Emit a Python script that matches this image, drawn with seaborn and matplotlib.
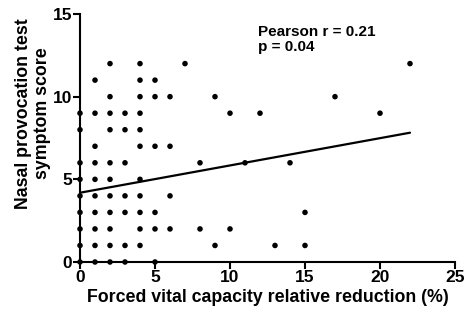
import matplotlib
matplotlib.use("Agg")
import matplotlib.pyplot as plt
import seaborn as sns
import numpy as np
import pandas as pd

# Data (x = FVC relative reduction %, y = symptom score)
fvc_reduction = [2, 4, 7, 22,
                 1, 4, 5,
                 2, 4, 5, 6, 9, 17,
                 0, 1, 2, 3, 4, 10, 12, 20,
                 0, 2, 3, 4,
                 1, 4, 5, 6,
                 0, 1, 2, 3, 8, 11, 14,
                 0, 1, 2, 4,
                 0, 1, 2, 3, 4, 6,
                 0, 1, 2, 3, 4, 5, 15,
                 0, 1, 2, 4, 5, 6, 8, 10,
                 0, 1, 2, 3, 4, 9, 13, 15,
                 0, 1, 2, 3, 5]
symptom_score = [12, 12, 12, 12,
                 11, 11, 11,
                 10, 10, 10, 10, 10, 10,
                 9, 9, 9, 9, 9, 9, 9, 9,
                 8, 8, 8, 8,
                 7, 7, 7, 7,
                 6, 6, 6, 6, 6, 6, 6,
                 5, 5, 5, 5,
                 4, 4, 4, 4, 4, 4,
                 3, 3, 3, 3, 3, 3, 3,
                 2, 2, 2, 2, 2, 2, 2, 2,
                 1, 1, 1, 1, 1, 1, 1, 1,
                 0, 0, 0, 0, 0]

# Regression line as shown in the reference
fit_x = [0, 22]
fit_intercept = 4.19
fit_slope = 0.165
fit_y = [fit_intercept + fit_slope * v for v in fit_x]

x_ticks = [0, 5, 10, 15, 20, 25]
y_ticks = [0, 5, 10, 15]

sns.set_style("ticks")
plt.rcParams['font.family'] = ['Liberation Sans', 'DejaVu Sans']
plt.rcParams['font.weight'] = 'bold'
plt.rcParams['text.color'] = 'black'
plt.rcParams['axes.labelcolor'] = 'black'
plt.rcParams['xtick.color'] = 'black'
plt.rcParams['ytick.color'] = 'black'

fig = plt.figure(figsize=(4.7, 3.14), dpi=100)
ax = fig.add_axes([80/470, 1 - 262/314, (455 - 80)/470, (262 - 14)/314])

df = pd.DataFrame({"x": fvc_reduction, "y": symptom_score})
sns.scatterplot(data=df, x="x", y="y", ax=ax, color="black", s=16,
                edgecolor="none", clip_on=False, zorder=3)
sns.lineplot(x=fit_x, y=fit_y, ax=ax, color="black", linewidth=1.6)

ax.set_xlim(0, 25)
ax.set_ylim(0, 15)
ax.set_xticks(x_ticks)
ax.set_yticks(y_ticks)
ax.tick_params(axis='both', direction='out', length=5, width=1.5,
               labelsize=12.5, color='black', labelcolor='black', pad=0.5)
for lab in ax.get_xticklabels() + ax.get_yticklabels():
    lab.set_fontweight('bold')
for sp in ['left', 'bottom']:
    ax.spines[sp].set_linewidth(1.5)
    ax.spines[sp].set_color('black')
sns.despine(ax=ax)

ax.set_xlabel("Forced vital capacity relative reduction (%)", fontsize=12.8,
              fontweight='bold', labelpad=3, color='black')
ax.set_ylabel("Nasal provocation test\nsymptom score", fontsize=12.8,
              fontweight='bold', color='black')
ax.yaxis.set_label_coords(-0.077, 0.60)

ax.text(0.475, 0.955, "Pearson r = 0.21\np = 0.04", transform=ax.transAxes,
        fontsize=11, fontweight='bold', va='top', ha='left', linespacing=1.1,
        color='black')

fig.savefig("out.png", dpi=100)
